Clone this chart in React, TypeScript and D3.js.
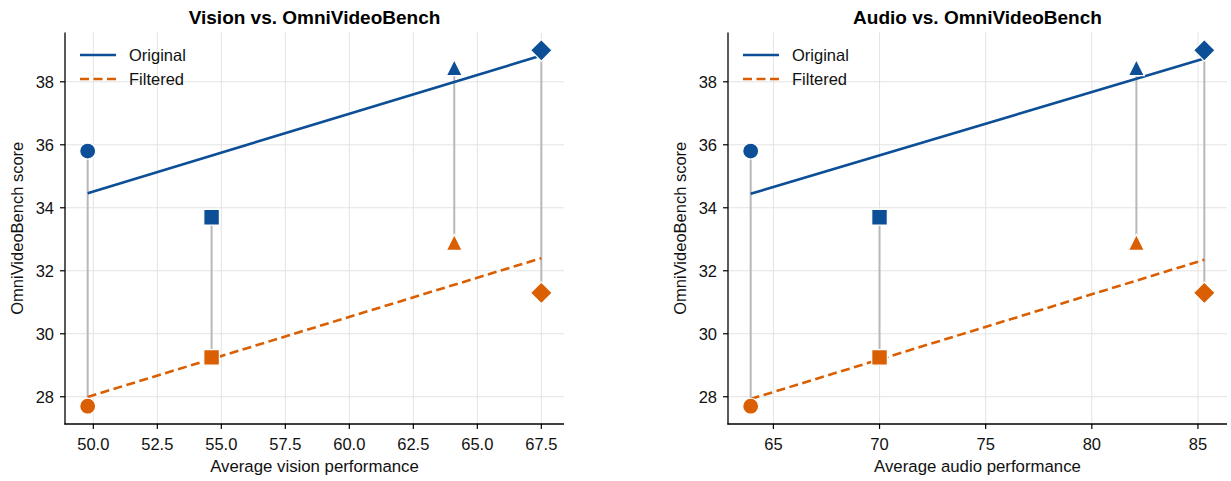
import React from 'react';
import * as d3 from 'd3';

// ---------- data ----------
const markerShapes = ['circle', 'square', 'triangle', 'diamond'];
const originalScores = [35.8, 33.7, 38.45, 39.0];
const filteredScores = [27.7, 29.25, 32.9, 31.3];
const visionPerf = [49.78, 54.62, 64.1, 67.5];
const audioPerf = [63.93, 70.0, 82.1, 85.3];
const visionTicks = [50, 52.5, 55, 57.5, 60, 62.5, 65, 67.5];
const audioTicks = [65, 70, 75, 80, 85];
const scoreTicks = [28, 30, 32, 34, 36, 38];
const seriesNames = ['Original', 'Filtered'];

const BLUE = '#0c4f96';
const ORANGE = '#d95f02';
const FONT = '"Liberation Sans", Arial, Helvetica, sans-serif';
const FS = 16.5;

const W = 1231;
const H = 481;
const TOP = 32.5;
const BOTTOM = 424;

function linfit(xs: number[], ys: number[]) {
  const mx = d3.mean(xs)!;
  const my = d3.mean(ys)!;
  let sxy = 0, sxx = 0;
  xs.forEach((x, i) => { sxy += (x - mx) * (ys[i] - my); sxx += (x - mx) ** 2; });
  const slope = sxy / sxx;
  return (x: number) => my + slope * (x - mx);
}

function padded(vals: number[]): [number, number] {
  const [a, b] = d3.extent(vals) as [number, number];
  const r = b - a;
  return [a - 0.05 * r, b + 0.05 * r];
}

function markerPath(shape: string, cx: number, cy: number): string {
  const p = d3.path();
  if (shape === 'circle') {
    const r = 8;
    p.moveTo(cx + r, cy);
    p.arc(cx, cy, r, 0, Math.PI * 2);
  } else if (shape === 'square') {
    const h = 7.8;
    p.rect(cx - h, cy - h, 2 * h, 2 * h);
  } else if (shape === 'triangle') {
    const h = 8;
    p.moveTo(cx, cy - h);
    p.lineTo(cx - h, cy + h);
    p.lineTo(cx + h, cy + h);
  } else {
    const h = 10.8;
    p.moveTo(cx, cy - h);
    p.lineTo(cx + h, cy);
    p.lineTo(cx, cy + h);
    p.lineTo(cx - h, cy);
  }
  p.closePath();
  return p.toString();
}

interface PanelProps {
  title: string;
  xlabel: string;
  xs: number[];
  xticks: number[];
  tickFmt: (v: number) => string;
  left: number;
  right: number;
}

function Panel({ title, xlabel, xs, xticks, tickFmt, left, right }: PanelProps) {
  const x = d3.scaleLinear().domain(padded(xs)).range([left, right]);
  const y = d3.scaleLinear().domain(padded([...originalScores, ...filteredScores])).range([BOTTOM, TOP]);
  const fits = [linfit(xs, originalScores), linfit(xs, filteredScores)];
  const [x0, x1] = d3.extent(xs) as [number, number];
  const line = d3.line<number>().x((d) => x(d));
  const colors = [BLUE, ORANGE];
  const cxMid = (left + right) / 2;
  const cyMid = (TOP + BOTTOM) / 2;

  return (
    <g>
      {/* grid */}
      {xticks.map((t) => (
        <line key={'gx' + t} x1={x(t)} x2={x(t)} y1={TOP} y2={BOTTOM} stroke="#e3e3e3" strokeWidth={1} />
      ))}
      {scoreTicks.map((t) => (
        <line key={'gy' + t} x1={left} x2={right} y1={y(t)} y2={y(t)} stroke="#e3e3e3" strokeWidth={1} />
      ))}
      {/* connectors */}
      {xs.map((v, i) => (
        <line key={'c' + i} x1={x(v)} x2={x(v)} y1={y(originalScores[i])} y2={y(filteredScores[i])}
          stroke="#b8b8b8" strokeWidth={2} />
      ))}
      {/* regression lines */}
      {fits.map((f, k) => (
        <path key={'fit' + k}
          d={line.y((d) => y(f(d)))([x0, x1])!}
          fill="none" stroke={colors[k]} strokeWidth={2.6}
          strokeDasharray={k === 1 ? '9,4.5' : undefined} />
      ))}
      {/* markers */}
      {[originalScores, filteredScores].map((ser, k) =>
        xs.map((v, i) => (
          <path key={'m' + k + i} d={markerPath(markerShapes[i], x(v), y(ser[i]))}
            fill={colors[k]} stroke="#ffffff" strokeWidth={1.2} strokeLinejoin="miter" />
        ))
      )}
      {/* spines */}
      <line x1={left} x2={left} y1={TOP} y2={BOTTOM + 0.6} stroke="#000" strokeWidth={1.3} />
      <line x1={left - 0.6} x2={right} y1={BOTTOM} y2={BOTTOM} stroke="#000" strokeWidth={1.3} />
      {/* x ticks */}
      {xticks.map((t) => (
        <g key={'xt' + t}>
          <line x1={x(t)} x2={x(t)} y1={BOTTOM} y2={BOTTOM + 5} stroke="#000" strokeWidth={1.2} />
          <text x={x(t)} y={BOTTOM + 26} textAnchor="middle" fontSize={FS} fontFamily={FONT} fill="#111">
            {tickFmt(t)}
          </text>
        </g>
      ))}
      {/* y ticks */}
      {scoreTicks.map((t) => (
        <g key={'yt' + t}>
          <line x1={left - 5} x2={left} y1={y(t)} y2={y(t)} stroke="#000" strokeWidth={1.2} />
          <text x={left - 11} y={y(t)} dy="0.35em" textAnchor="end" fontSize={FS} fontFamily={FONT} fill="#111">
            {t}
          </text>
        </g>
      ))}
      {/* labels */}
      <text x={cxMid} y={472} textAnchor="middle" fontSize={16.8} fontFamily={FONT} fill="#111">{xlabel}</text>
      <text transform={`translate(${left - 42},${cyMid}) rotate(-90)`} textAnchor="middle" fontSize={16.5}
        fontFamily={FONT} fill="#111">OmniVideoBench score</text>
      <text x={cxMid} y={23.5} textAnchor="middle" fontSize={19} fontWeight="bold" fontFamily={FONT} fill="#000">
        {title}
      </text>
      {/* legend */}
      {seriesNames.map((name, k) => (
        <g key={'lg' + k}>
          <line x1={left + 15} x2={left + 51} y1={55 + k * 24} y2={55 + k * 24} stroke={colors[k]} strokeWidth={2.6}
            strokeDasharray={k === 1 ? '9,4.5' : undefined} />
          <text x={left + 64} y={55 + k * 24} dy="0.35em" fontSize={FS} fontFamily={FONT} fill="#111">{name}</text>
        </g>
      ))}
    </g>
  );
}

export default function App() {
  return (
    <svg width={W} height={H} style={{ position: 'absolute', left: 0, top: 0, background: '#fff' }}>
      <rect width={W} height={H} fill="#fff" />
      <Panel title="Vision vs. OmniVideoBench" xlabel="Average vision performance" xs={visionPerf}
        xticks={visionTicks} tickFmt={(v) => v.toFixed(1)} left={65} right={564} />
      <Panel title="Audio vs. OmniVideoBench" xlabel="Average audio performance" xs={audioPerf}
        xticks={audioTicks} tickFmt={(v) => String(v)} left={728} right={1227} />
    </svg>
  );
}
